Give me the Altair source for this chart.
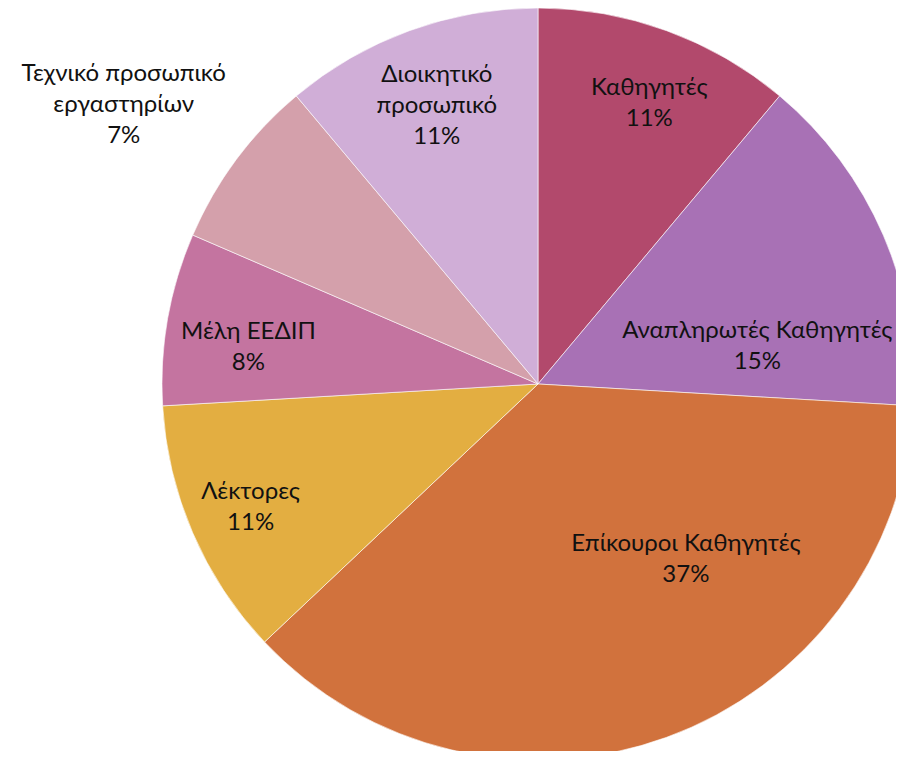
import altair as alt
import pandas as pd

categories = [
    "Καθηγητές",
    "Αναπληρωτές Καθηγητές",
    "Επίκουροι Καθηγητές",
    "Λέκτορες",
    "Μέλη ΕΕΔΙΠ",
    "Τεχνικό προσωπικό εργαστηρίων",
    "Διοικητικό προσωπικό",
]
shares = [11.1, 14.8, 37.0, 11.1, 7.4, 7.4, 11.1]
pct_labels = ["11%", "15%", "37%", "11%", "8%", "7%", "11%"]
name_lines = [
    "Καθηγητές",
    "Αναπληρωτές Καθηγητές",
    "Επίκουροι Καθηγητές",
    "Λέκτορες",
    "Μέλη ΕΕΔΙΠ",
    "Τεχνικό προσωπικό\nεργαστηρίων",
    "Διοικητικό\nπροσωπικό",
]
colors = ["#B2496C", "#A871B5", "#D1723D", "#E3AE41", "#C474A0", "#D4A0AB", "#D0AED7"]

df = pd.DataFrame({
    "idx": list(range(len(categories))),
    "category": categories,
    "share": shares,
    "label": [n + "\n" + p for n, p in zip(name_lines, pct_labels)],
})

CX, CY, R = 530, 376, 376
FONT = "Lato"
LH = 31

base = (
    alt.Chart(df)
    .transform_window(cum="sum(share)", sort=[alt.SortField("idx")], frame=[None, 0])
    .transform_joinaggregate(total="sum(share)")
    .transform_calculate(
        start="(datum.cum - datum.share) / datum.total * 2 * PI",
        end="datum.cum / datum.total * 2 * PI",
    )
    .transform_calculate(mid="(datum.start + datum.end) / 2")
)

arcs = base.mark_arc(outerRadius=R, stroke="#ffffff", strokeWidth=0.6).encode(
    x=alt.value(CX),
    y=alt.value(CY),
    theta=alt.Theta("start:Q", scale=None),
    theta2="end:Q",
    color=alt.Color("category:N", scale=alt.Scale(domain=categories, range=colors), legend=None),
)

# label placement (radius from centre, extra offset) per slice
placement = {
    "Καθηγητές": (302, 8, 3),
    "Αναπληρωτές Καθηγητές": (216, 21, 48),
    "Επίκουροι Καθηγητές": (216, 74, -27),
    "Λέκτορες": (313, 0, 0),
    "Μέλη ΕΕΔΙΠ": (292, -2, 14),
    "Τεχνικό προσωπικό εργαστηρίων": (499, -14, 19),
    "Διοικητικό προσωπικό": (296, 0, 0),
}

layers = [arcs]
for cat, lbl in zip(categories, df["label"]):
    rad, ddx, ddy = placement[cat]
    n_lines = lbl.count("\n") + 1
    layers.append(
        base.transform_filter(alt.datum.category == cat)
        .mark_text(
            radius=rad, dx=ddx, dy=ddy - (n_lines - 1) * LH / 2, font=FONT, fontSize=24,
            lineHeight=LH, lineBreak="\n", color="#111111", align="center", baseline="middle",
        )
        .encode(
            x=alt.value(CX),
            y=alt.value(CY),
            theta=alt.Theta("mid:Q", scale=None),
            text="label:N",
        )
    )

chart = (
    alt.layer(*layers)
    .properties(width=888, height=743, autosize="none", padding=0)
    .configure_view(stroke=None)
)

chart.save("out.html", embed_options={"renderer": "svg", "actions": False})
